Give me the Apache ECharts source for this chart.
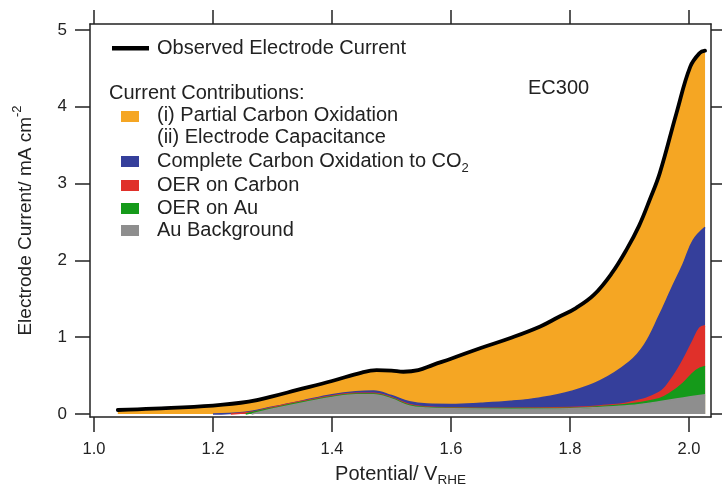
<!DOCTYPE html>
<html>
<head>
<meta charset="utf-8">
<script src="https://cdn.jsdelivr.net/npm/echarts@6/dist/echarts.min.js"></script>
<style>
html,body{margin:0;padding:0;background:#fff;}
#chart{width:722px;height:489px;}
</style>
</head>
<body>
<div id="chart"></div>
<script>
// ---- data (upper boundary of each stacked band, mA cm^-2 vs V_RHE) ----
var totalV = [1.04, 1.1, 1.2, 1.26, 1.3, 1.34, 1.4, 1.45, 1.475, 1.5, 1.52, 1.545, 1.57, 1.6, 1.65, 1.7, 1.75, 1.78, 1.81, 1.84, 1.87, 1.895, 1.916, 1.934, 1.951, 1.979, 2.002, 2.018, 2.027];
var totalI = [0.052, 0.07, 0.11, 0.16, 0.23, 0.31, 0.43, 0.54, 0.57, 0.565, 0.55, 0.57, 0.64, 0.72, 0.86, 0.99, 1.14, 1.26, 1.38, 1.55, 1.83, 2.14, 2.45, 2.79, 3.14, 3.92, 4.52, 4.70, 4.73];

var co2V = [1.2, 1.25, 1.3, 1.35, 1.4, 1.44, 1.47, 1.5, 1.53, 1.56, 1.6, 1.65, 1.7, 1.75, 1.8, 1.85, 1.9, 1.925, 1.95, 1.97, 1.99, 2.007, 2.027];
var co2I = [0.0, 0.02, 0.09, 0.17, 0.25, 0.29, 0.30, 0.24, 0.16, 0.13, 0.125, 0.14, 0.165, 0.21, 0.29, 0.43, 0.68, 0.9, 1.28, 1.62, 1.95, 2.26, 2.43];

var oerCV = [1.23, 1.27, 1.3, 1.35, 1.4, 1.44, 1.47, 1.5, 1.53, 1.56, 1.6, 1.7, 1.8, 1.85, 1.9, 1.95, 1.97, 1.99, 2.007, 2.018, 2.027];
var oerCI = [0.0, 0.03, 0.085, 0.165, 0.235, 0.27, 0.27, 0.215, 0.125, 0.09, 0.08, 0.075, 0.085, 0.105, 0.15, 0.28, 0.45, 0.70, 0.96, 1.12, 1.15];

var oerAuV = [1.255, 1.3, 1.35, 1.4, 1.44, 1.47, 1.5, 1.53, 1.56, 1.6, 1.7, 1.8, 1.85, 1.9, 1.95, 1.97, 1.99, 2.012, 2.027];
var oerAuI = [0.0, 0.075, 0.155, 0.225, 0.26, 0.26, 0.205, 0.115, 0.085, 0.075, 0.07, 0.075, 0.095, 0.13, 0.2, 0.28, 0.4, 0.57, 0.62];

var auV = [1.265, 1.3, 1.35, 1.4, 1.44, 1.47, 1.5, 1.53, 1.56, 1.6, 1.7, 1.8, 1.85, 1.9, 1.95, 2.0, 2.027];
var auI = [0.0, 0.065, 0.145, 0.215, 0.25, 0.25, 0.195, 0.105, 0.078, 0.068, 0.063, 0.068, 0.085, 0.11, 0.16, 0.22, 0.25];

var xTicks = [1.0, 1.2, 1.4, 1.6, 1.8, 2.0];
var yTicks = [0, 1, 2, 3, 4, 5];

var legendObserved = 'Observed Electrode Current';
var legendHeader = 'Current Contributions:';
var legendPartial1 = '(i) Partial Carbon Oxidation';
var legendPartial2 = '(ii) Electrode Capacitance';
var legendCO2 = 'Complete Carbon Oxidation to CO';
var legendOERC = 'OER on Carbon';
var legendOERAu = 'OER on Au';
var legendAu = 'Au Background';
var sampleLabel = 'EC300';

// ---- styling ----
var FONT = '"Liberation Sans", Arial, Helvetica, sans-serif';
var TXT = '#222';
var C_OR = '#F5A623', C_BL = '#353F9B', C_RD = '#E0302A', C_GR = '#159A1A', C_GY = '#8E8E8E';

function pairs(xs, ys) { return xs.map(function (x, i) { return [x, ys[i]]; }); }

function band(name, xs, ys, color) {
  return {
    name: name, type: 'line', data: pairs(xs, ys), smooth: 0.4,
    showSymbol: false, symbol: 'none', silent: true,
    lineStyle: { color: color, width: 1.5 },
    areaStyle: { color: color, opacity: 1, origin: 0 }
  };
}

var chart = echarts.init(document.getElementById('chart'), null, { renderer: 'canvas' });

var xMin = 1 + (90 - 94) / 595, xMax = 1 + (711 - 94) / 595;
var yMin = (414 - 417) / 76.8, yMax = (414 - 24) / 76.8;

var baseAxisLine = { show: true, onZero: false, lineStyle: { color: TXT, width: 1.5 } };

var option = {
  animation: false,
  backgroundColor: '#fff',
  grid: { left: 90, right: 11, top: 24, bottom: 72, containLabel: false, outerBoundsMode: 'none' },
  xAxis: [{
    type: 'value', position: 'bottom', min: xMin, max: xMax,
    axisLine: baseAxisLine,
    axisTick: { show: true, inside: false, length: 15, customValues: xTicks, lineStyle: { color: TXT, width: 1.5 } },
    axisLabel: { customValues: xTicks, margin: 24, fontSize: 16.5, color: TXT, fontFamily: FONT, formatter: function (v) { return v.toFixed(1); } },
    splitLine: { show: false },
    name: 'Potential/ V{sub|RHE}', nameLocation: 'middle', nameGap: 45,
    nameTextStyle: {
      fontSize: 20, color: TXT, fontFamily: FONT, lineHeight: 24,
      rich: { sub: { fontSize: 13.5, color: TXT, fontFamily: FONT, verticalAlign: 'bottom', lineHeight: 14 } }
    }
  }, {
    type: 'value', position: 'top', min: xMin, max: xMax,
    axisLine: baseAxisLine,
    axisTick: { show: true, inside: false, length: 14, customValues: xTicks, lineStyle: { color: TXT, width: 1.5 } },
    axisLabel: { show: false }, splitLine: { show: false }
  }],
  yAxis: [{
    type: 'value', position: 'left', min: yMin, max: yMax,
    axisLine: baseAxisLine,
    axisTick: { show: true, inside: false, length: 15, customValues: yTicks, lineStyle: { color: TXT, width: 1.5 } },
    axisLabel: { customValues: yTicks, margin: 23, fontSize: 17, color: TXT, fontFamily: FONT },
    splitLine: { show: false },
    name: '{m|Electrode Current/ mA cm}{sup|-2}', nameLocation: 'middle', nameRotate: 90, nameGap: 49,
    nameTextStyle: {
      color: TXT, fontFamily: FONT,
      rich: {
        m: { fontSize: 19, color: TXT, fontFamily: FONT, lineHeight: 30 },
        sup: { fontSize: 13, color: TXT, fontFamily: FONT, verticalAlign: 'top', lineHeight: 13 }
      }
    }
  }, {
    type: 'value', position: 'right', min: yMin, max: yMax,
    axisLine: baseAxisLine,
    axisTick: { show: true, inside: false, length: 12, customValues: yTicks, lineStyle: { color: TXT, width: 1.5 } },
    axisLabel: { show: false }, splitLine: { show: false }
  }],
  series: [
    band('Partial Carbon Oxidation / Electrode Capacitance', totalV, totalI, C_OR),
    band('Complete Carbon Oxidation to CO2', co2V, co2I, C_BL),
    band('OER on Carbon', oerCV, oerCI, C_RD),
    band('OER on Au', oerAuV, oerAuI, C_GR),
    band('Au Background', auV, auI, C_GY),
    {
      name: legendObserved, type: 'line', data: pairs(totalV, totalI), smooth: 0.4,
      showSymbol: false, symbol: 'none', silent: true,
      lineStyle: { color: '#000', width: 3.8, cap: 'round' }
    }
  ],
  graphic: { elements: [] }
};

var g = option.graphic.elements;
function gText(txt, x, y, extra) {
  var st = { text: txt, x: 0, y: 0, fill: TXT, fontSize: 20, fontFamily: FONT, verticalAlign: 'middle', align: 'left' };
  if (extra) for (var k in extra) st[k] = extra[k];
  g.push({ type: 'text', x: x, y: y, style: st, silent: true, z: 100 });
}
function gRect(x, y, w, h, color) {
  g.push({ type: 'rect', shape: { x: x, y: y, width: w, height: h }, style: { fill: color }, silent: true, z: 100 });
}

gRect(112, 46, 37, 4.5, '#000');
gText(legendObserved, 157, 48);
gText(legendHeader, 109, 93);
gRect(121, 111, 18, 11, C_OR);
gText(legendPartial1, 157, 115);
gText(legendPartial2, 157, 137.5);
gRect(121, 156, 18, 11, C_BL);
gText(legendCO2 + '{sub|2}', 157, 161, {
  lineHeight: 28,
  rich: { sub: { fontSize: 13, fill: TXT, fontFamily: FONT, verticalAlign: 'bottom', lineHeight: 13 } }
});
gRect(121, 180, 18, 11, C_RD);
gText(legendOERC, 157, 185.5);
gRect(121, 203, 18, 11, C_GR);
gText(legendOERAu, 157, 208);
gRect(121, 225, 18, 11, C_GY);
gText(legendAu, 157, 230);
gText(sampleLabel, 528, 88);

chart.setOption(option);
</script>
</body>
</html>
